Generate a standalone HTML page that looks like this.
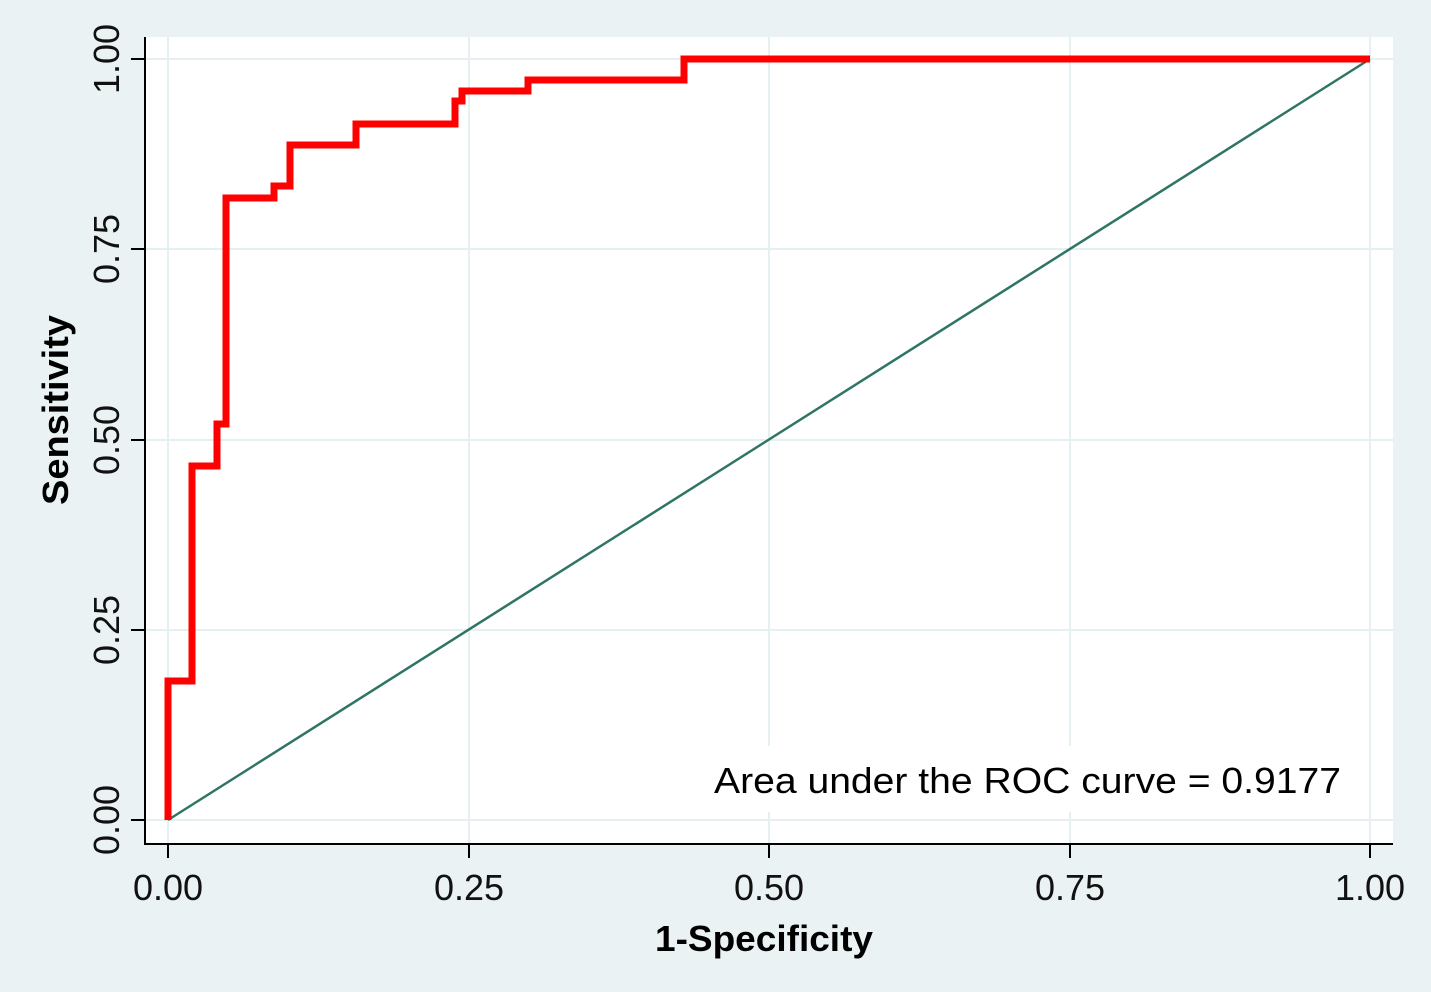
<!DOCTYPE html>
<html><head><style>body{margin:0;background:#eaf2f3}svg{display:block}</style></head>
<body>
<svg width="1431" height="992" viewBox="0 0 1431 992" xmlns="http://www.w3.org/2000/svg" font-family="Liberation Sans, sans-serif">
<rect width="1431" height="992" fill="#eaf2f3"/>
<rect x="145" y="37" width="1248" height="807" fill="#fff"/>
<g stroke="#e6eff1" stroke-width="2">
<line x1="145" y1="59" x2="1393" y2="59"/>
<line x1="145" y1="249" x2="1393" y2="249"/>
<line x1="145" y1="440" x2="1393" y2="440"/>
<line x1="145" y1="630" x2="1393" y2="630"/>
<line x1="145" y1="820" x2="1393" y2="820"/>
<line x1="168" y1="37" x2="168" y2="844"/>
<line x1="469" y1="37" x2="469" y2="844"/>
<line x1="769" y1="37" x2="769" y2="844"/>
<line x1="1070" y1="37" x2="1070" y2="844"/>
<line x1="1370" y1="37" x2="1370" y2="844"/>
</g>
<rect x="705" y="746" width="650" height="66" fill="#fff"/>
<line x1="168" y1="820" x2="1370" y2="59" stroke="#2e7566" stroke-width="2.5"/>
<polyline fill="none" stroke="#ff0000" stroke-width="7" stroke-linejoin="miter" points="168,820 168,681 192,681 192,466 217,466 217,424 226,424 226,198 274,198 274,186 290,186 290,145 356,145 356,124 455,124 455,101 462,101 462,91 528,91 528,80 684,80 684,59 1370,59"/>
<g stroke="#000" stroke-width="2">
<line x1="145" y1="37" x2="145" y2="845"/>
<line x1="144" y1="844" x2="1393" y2="844"/>
<line x1="131" y1="59" x2="145" y2="59"/>
<line x1="131" y1="249" x2="145" y2="249"/>
<line x1="131" y1="440" x2="145" y2="440"/>
<line x1="131" y1="630" x2="145" y2="630"/>
<line x1="131" y1="820" x2="145" y2="820"/>
<line x1="168" y1="844" x2="168" y2="858"/>
<line x1="469" y1="844" x2="469" y2="858"/>
<line x1="769" y1="844" x2="769" y2="858"/>
<line x1="1070" y1="844" x2="1070" y2="858"/>
<line x1="1370" y1="844" x2="1370" y2="858"/>
</g>
<g font-size="36" fill="#111" text-anchor="middle">
<text x="168" y="900">0.00</text>
<text x="469" y="900">0.25</text>
<text x="769" y="900">0.50</text>
<text x="1070" y="900">0.75</text>
<text x="1370" y="900">1.00</text>
<text transform="translate(119,820) rotate(-90)">0.00</text>
<text transform="translate(119,630) rotate(-90)">0.25</text>
<text transform="translate(119,440) rotate(-90)">0.50</text>
<text transform="translate(119,249) rotate(-90)">0.75</text>
<text transform="translate(119,59) rotate(-90)">1.00</text>
</g>
<text x="764" y="951" font-size="36" font-weight="bold" text-anchor="middle" textLength="218" lengthAdjust="spacingAndGlyphs" fill="#000">1-Specificity</text>
<text transform="translate(68,410) rotate(-90)" font-size="36" font-weight="bold" text-anchor="middle" textLength="190" lengthAdjust="spacingAndGlyphs" fill="#000">Sensitivity</text>
<text x="714" y="793" font-size="36" textLength="627" lengthAdjust="spacingAndGlyphs" fill="#000">Area under the ROC curve = 0.9177</text>
</svg>
</body></html>
